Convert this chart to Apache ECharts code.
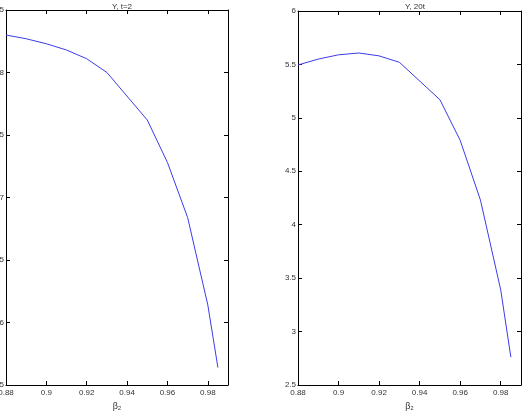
<!DOCTYPE html>
<html>
<head>
<meta charset="utf-8">
<script src="https://cdn.jsdelivr.net/npm/echarts@6/dist/echarts.min.js"></script>
<style>
  html, body { margin: 0; padding: 0; background: #fff; }
  #chart { width: 526px; height: 413px; }
</style>
</head>
<body>
<div id="chart"></div>
<script>
// beta_2 grid used by both panels
const beta = [0.88, 0.89, 0.90, 0.91, 0.92, 0.93, 0.95, 0.96, 0.97, 0.98, 0.985]
// left panel: Y, t=2
const yT2 = [8.30, 8.27, 8.23, 8.18, 8.11, 8.00, 7.62, 7.28, 6.84, 6.14, 5.64]
// right panel: Y, 20t
const y20t = [5.495, 5.55, 5.59, 5.607, 5.58, 5.52, 5.17, 4.79, 4.23, 3.39, 2.76]

const titles = ['Y, t=2', 'Y, 20t']
const xName = 'β₂'

const Font = { fontFamily: 'Liberation Sans, Arial, sans-serif', fontSize: 8, color: '#333' }
const LineColor = '#3b3bea'

function pairs(xs, ys) {
  return xs.map((x, i) => [x, ys[i]])
}

function frameAxis(idx, extra) {
  return Object.assign({
    gridIndex: idx,
    axisLine: { show: true, lineStyle: { color: '#000', width: 1 } },
    axisTick: { show: true, inside: true, length: 4, lineStyle: { color: '#000' } },
    splitLine: { show: false }
  }, extra)
}

const chart = echarts.init(document.getElementById('chart'))

const xBase = {
  type: 'value',
  min: 0.88,
  max: 0.99,
  interval: 0.02
}

chart.setOption({
  animation: false,
  title: [
    { text: titles[0], left: 117, top: -2, textAlign: 'center', textStyle: Object.assign({ fontWeight: 'normal' }, Font) },
    { text: titles[1], left: 410, top: -2, textAlign: 'center', textStyle: Object.assign({ fontWeight: 'normal' }, Font) }
  ],
  grid: [
    { left: 6, right: 298, top: 10, bottom: 28, outerBoundsMode: 'none', containLabel: false },
    { left: 298, right: 5, top: 11, bottom: 28, outerBoundsMode: 'none', containLabel: false }
  ],
  xAxis: [
    frameAxis(0, Object.assign({}, xBase, {
      position: 'bottom',
      name: xName,
      nameLocation: 'middle',
      nameGap: 16,
      nameTextStyle: Object.assign({}, Font, { fontSize: 9 }),
      axisLabel: Object.assign({ margin: 4, showMaxLabel: false }, Font)
    })),
    frameAxis(0, Object.assign({}, xBase, { position: 'top', axisLabel: { show: false } })),
    frameAxis(1, Object.assign({}, xBase, {
      position: 'bottom',
      name: xName,
      nameLocation: 'middle',
      nameGap: 16,
      nameTextStyle: Object.assign({}, Font, { fontSize: 9 }),
      axisLabel: Object.assign({ margin: 4, showMaxLabel: false }, Font)
    })),
    frameAxis(1, Object.assign({}, xBase, { position: 'top', axisLabel: { show: false } }))
  ],
  yAxis: [
    frameAxis(0, { type: 'value', position: 'left', min: 5.5, max: 8.5, interval: 0.5, axisLabel: Object.assign({ margin: 2 }, Font) }),
    frameAxis(0, { type: 'value', position: 'right', min: 5.5, max: 8.5, interval: 0.5, axisLabel: { show: false } }),
    frameAxis(1, { type: 'value', position: 'left', min: 2.5, max: 6, interval: 0.5, axisLabel: Object.assign({ margin: 2 }, Font) }),
    frameAxis(1, { type: 'value', position: 'right', min: 2.5, max: 6, interval: 0.5, axisLabel: { show: false } })
  ],
  series: [
    {
      type: 'line',
      xAxisIndex: 0,
      yAxisIndex: 0,
      data: pairs(beta, yT2),
      symbol: 'none',
      lineStyle: { color: LineColor, width: 1 }
    },
    {
      type: 'line',
      xAxisIndex: 2,
      yAxisIndex: 2,
      data: pairs(beta, y20t),
      symbol: 'none',
      lineStyle: { color: LineColor, width: 1 }
    }
  ]
})
</script>
</body>
</html>
